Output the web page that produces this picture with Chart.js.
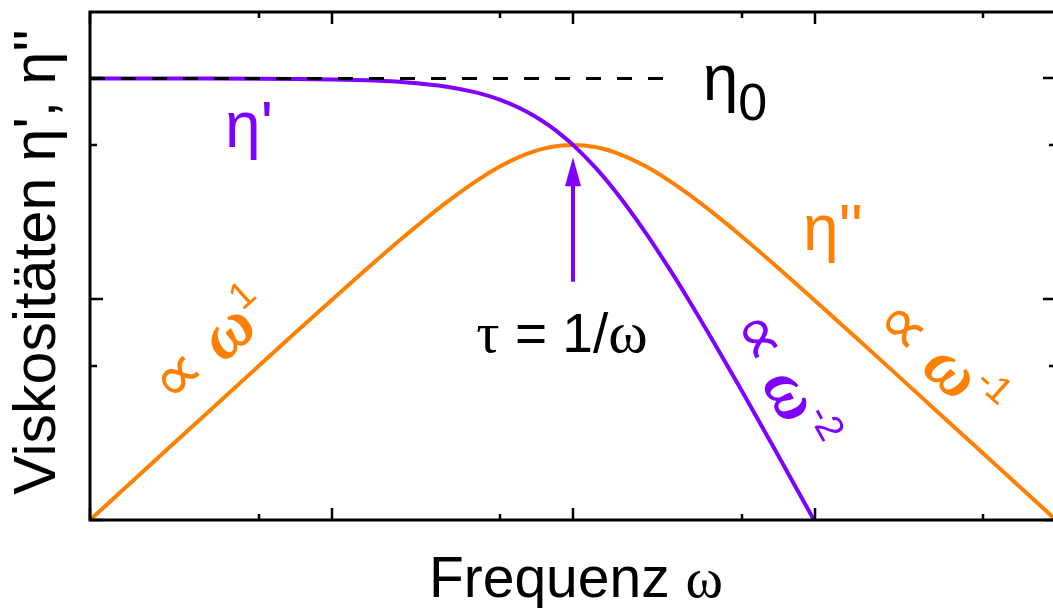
<!DOCTYPE html>
<html>
<head>
<meta charset="utf-8">
<script src="https://cdn.jsdelivr.net/npm/chart.js@4/dist/chart.umd.min.js"></script>
<style>
  body { margin: 0; overflow: hidden; background: #fff; }
  canvas { display: block; }
</style>
</head>
<body>
<canvas id="myChart" width="1060" height="608"></canvas>
<script>
// Frequenz (omega*tau), log-log
const frequencies = [0.01, 0.02, 0.03, 0.05, 0.07, 0.1, 0.15, 0.2, 0.3, 0.4, 0.5, 0.6, 0.7, 0.8, 0.9, 1,
  1.25, 1.5, 2, 2.5, 3, 4, 5, 7, 10, 15, 20, 30, 50, 70, 100];
// eta'' (orange)
const etaLoss = [0.01, 0.02, 0.03, 0.0499, 0.0697, 0.099, 0.1467, 0.1923, 0.2752, 0.3448, 0.4, 0.4412, 0.4698, 0.4878, 0.4972, 0.5,
  0.4878, 0.4615, 0.4, 0.3448, 0.3, 0.2353, 0.1923, 0.14, 0.099, 0.0664, 0.0499, 0.0333, 0.02, 0.0143, 0.01];
// eta' (purple), only up to omega = 10
const etaStorage = [0.9999, 0.9996, 0.9991, 0.9975, 0.9951, 0.9901, 0.978, 0.9615, 0.9174, 0.8621, 0.8, 0.7353, 0.6711, 0.6098, 0.5525, 0.5,
  0.3902, 0.3077, 0.2, 0.1379, 0.1, 0.0588, 0.0385, 0.02, 0.0099];
// eta0 dashed line
const eta0 = 1;
const eta0Range = [0.01, 2.4];
// ticks (no labels)
const xMajorTicks = [0.01, 0.1, 1, 10, 100];
const xMinorTicks = [0.05, 0.5, 5, 50];
const yMajorTicks = [0.01, 0.1, 1];
const yMinorTicks = [0.05, 0.5];
// arrow at tau = 1/omega
const arrowX = 1;
const arrowFrom = 0.12;
const arrowTo = 0.44;

const ORANGE = '#ff8000';
const PURPLE = '#7f00ff';
const SANS = "'Liberation Sans', Arial, sans-serif";
const SERIF = "'Liberation Serif', 'Times New Roman', serif";

function drawLabel(ctx, x, y, angle, parts, color) {
  ctx.save();
  ctx.translate(x, y);
  ctx.rotate(angle * Math.PI / 180);
  ctx.fillStyle = color;
  ctx.textAlign = 'left';
  ctx.textBaseline = 'alphabetic';
  let w = 0;
  parts.forEach(p => { ctx.font = p.font; w += ctx.measureText(p.text).width; });
  let cx = -w / 2;
  parts.forEach(p => {
    ctx.font = p.font;
    ctx.fillText(p.text, cx, p.dy || 0);
    cx += ctx.measureText(p.text).width;
  });
  ctx.restore();
}

// "∝ ω^n" label
function powerLaw(exp) {
  return [
    { text: '∝ ', font: '68px ' + SERIF },
    { text: 'ω', font: 'italic bold 68px ' + SERIF },
    { text: exp, font: '38px ' + SANS, dy: -26 }
  ];
}

const decor = {
  id: 'decor',
  afterDatasetsDraw(chart) {
    const ctx = chart.ctx;
    const a = chart.chartArea;
    const xs = chart.scales.x;
    const ys = chart.scales.y;

    // frame
    ctx.save();
    ctx.strokeStyle = '#000';
    ctx.lineWidth = 3;
    ctx.strokeRect(a.left, a.top, a.right - a.left, a.bottom - a.top);

    // inward ticks on all four sides
    ctx.lineWidth = 2.5;
    ctx.beginPath();
    const xt = (v, len) => {
      const px = Math.round(xs.getPixelForValue(v));
      ctx.moveTo(px, a.bottom); ctx.lineTo(px, a.bottom - len);
      ctx.moveTo(px, a.top); ctx.lineTo(px, a.top + len);
    };
    const yt = (v, len) => {
      const py = Math.round(ys.getPixelForValue(v));
      ctx.moveTo(a.left, py); ctx.lineTo(a.left + len, py);
      ctx.moveTo(a.right, py); ctx.lineTo(a.right - len, py);
    };
    xMajorTicks.forEach(v => xt(v, 12));
    xMinorTicks.forEach(v => xt(v, 6));
    yMajorTicks.forEach(v => yt(v, 13));
    yMinorTicks.forEach(v => yt(v, 7));
    ctx.stroke();

    // arrow
    const ax = xs.getPixelForValue(arrowX);
    const y0 = ys.getPixelForValue(arrowFrom);
    const y1 = ys.getPixelForValue(arrowTo);
    ctx.strokeStyle = PURPLE;
    ctx.fillStyle = PURPLE;
    ctx.lineWidth = 4;
    ctx.beginPath();
    ctx.moveTo(ax, y0);
    ctx.lineTo(ax, y1 + 25);
    ctx.stroke();
    ctx.beginPath();
    ctx.moveTo(ax, y1);
    ctx.lineTo(ax - 8, y1 + 29);
    ctx.lineTo(ax + 8, y1 + 29);
    ctx.closePath();
    ctx.fill();
    ctx.restore();

    // axis titles
    drawLabel(ctx, 576, 597, 0, [
      { text: 'Frequenz ', font: '57px ' + SANS },
      { text: 'ω', font: '57px ' + SERIF }
    ], '#000');
    drawLabel(ctx, 55, 262, -90, [
      { text: "Viskositäten η', η''", font: '59px ' + SANS }
    ], '#000');

    // curve labels
    drawLabel(ctx, 249, 147, 0, [{ text: "η'", font: '64px ' + SANS }], PURPLE);
    drawLabel(ctx, 833, 250, 0, [{ text: "η''", font: '64px ' + SANS }], ORANGE);
    drawLabel(ctx, 735, 100, 0, [
      { text: 'η', font: '64px ' + SANS },
      { text: '0', font: '52px ' + SANS, dy: 20 }
    ], '#000');
    drawLabel(ctx, 562, 352, 0, [
      { text: 'τ', font: '58px ' + SERIF },
      { text: ' = 1/', font: '55px ' + SANS },
      { text: 'ω', font: '60px ' + SERIF }
    ], '#000');

    // power laws
    drawLabel(ctx, 225, 362, -42, powerLaw('1'), ORANGE);
    drawLabel(ctx, 765, 391, 61, powerLaw('-2'), PURPLE);
    drawLabel(ctx, 926, 376, 42, powerLaw('-1'), ORANGE);
  }
};

const ctx = document.getElementById('myChart').getContext('2d');
const chart = new Chart(ctx, {
  type: 'line',
  data: {
    datasets: [
      {
        label: 'eta0',
        data: eta0Range.map(f => ({ x: f, y: eta0 })),
        borderColor: '#000',
        borderWidth: 3,
        borderDash: [15, 16],
        pointRadius: 0
      },
      {
        label: "eta'",
        data: etaStorage.map((v, i) => ({ x: frequencies[i], y: v })),
        borderColor: PURPLE,
        borderWidth: 4,
        pointRadius: 0,
        cubicInterpolationMode: 'monotone'
      },
      {
        label: "eta''",
        data: etaLoss.map((v, i) => ({ x: frequencies[i], y: v })),
        borderColor: ORANGE,
        borderWidth: 4,
        pointRadius: 0,
        cubicInterpolationMode: 'monotone'
      }
    ]
  },
  options: {
    responsive: false,
    animation: false,
    layout: { padding: { left: 90, top: 12, right: 4, bottom: 88 } },
    plugins: { legend: { display: false }, tooltip: { enabled: false } },
    scales: {
      x: { type: 'logarithmic', min: 0.01, max: 100, display: false },
      y: { type: 'logarithmic', min: 0.01, max: 2, display: false }
    }
  },
  plugins: [decor]
});
</script>
</body>
</html>
